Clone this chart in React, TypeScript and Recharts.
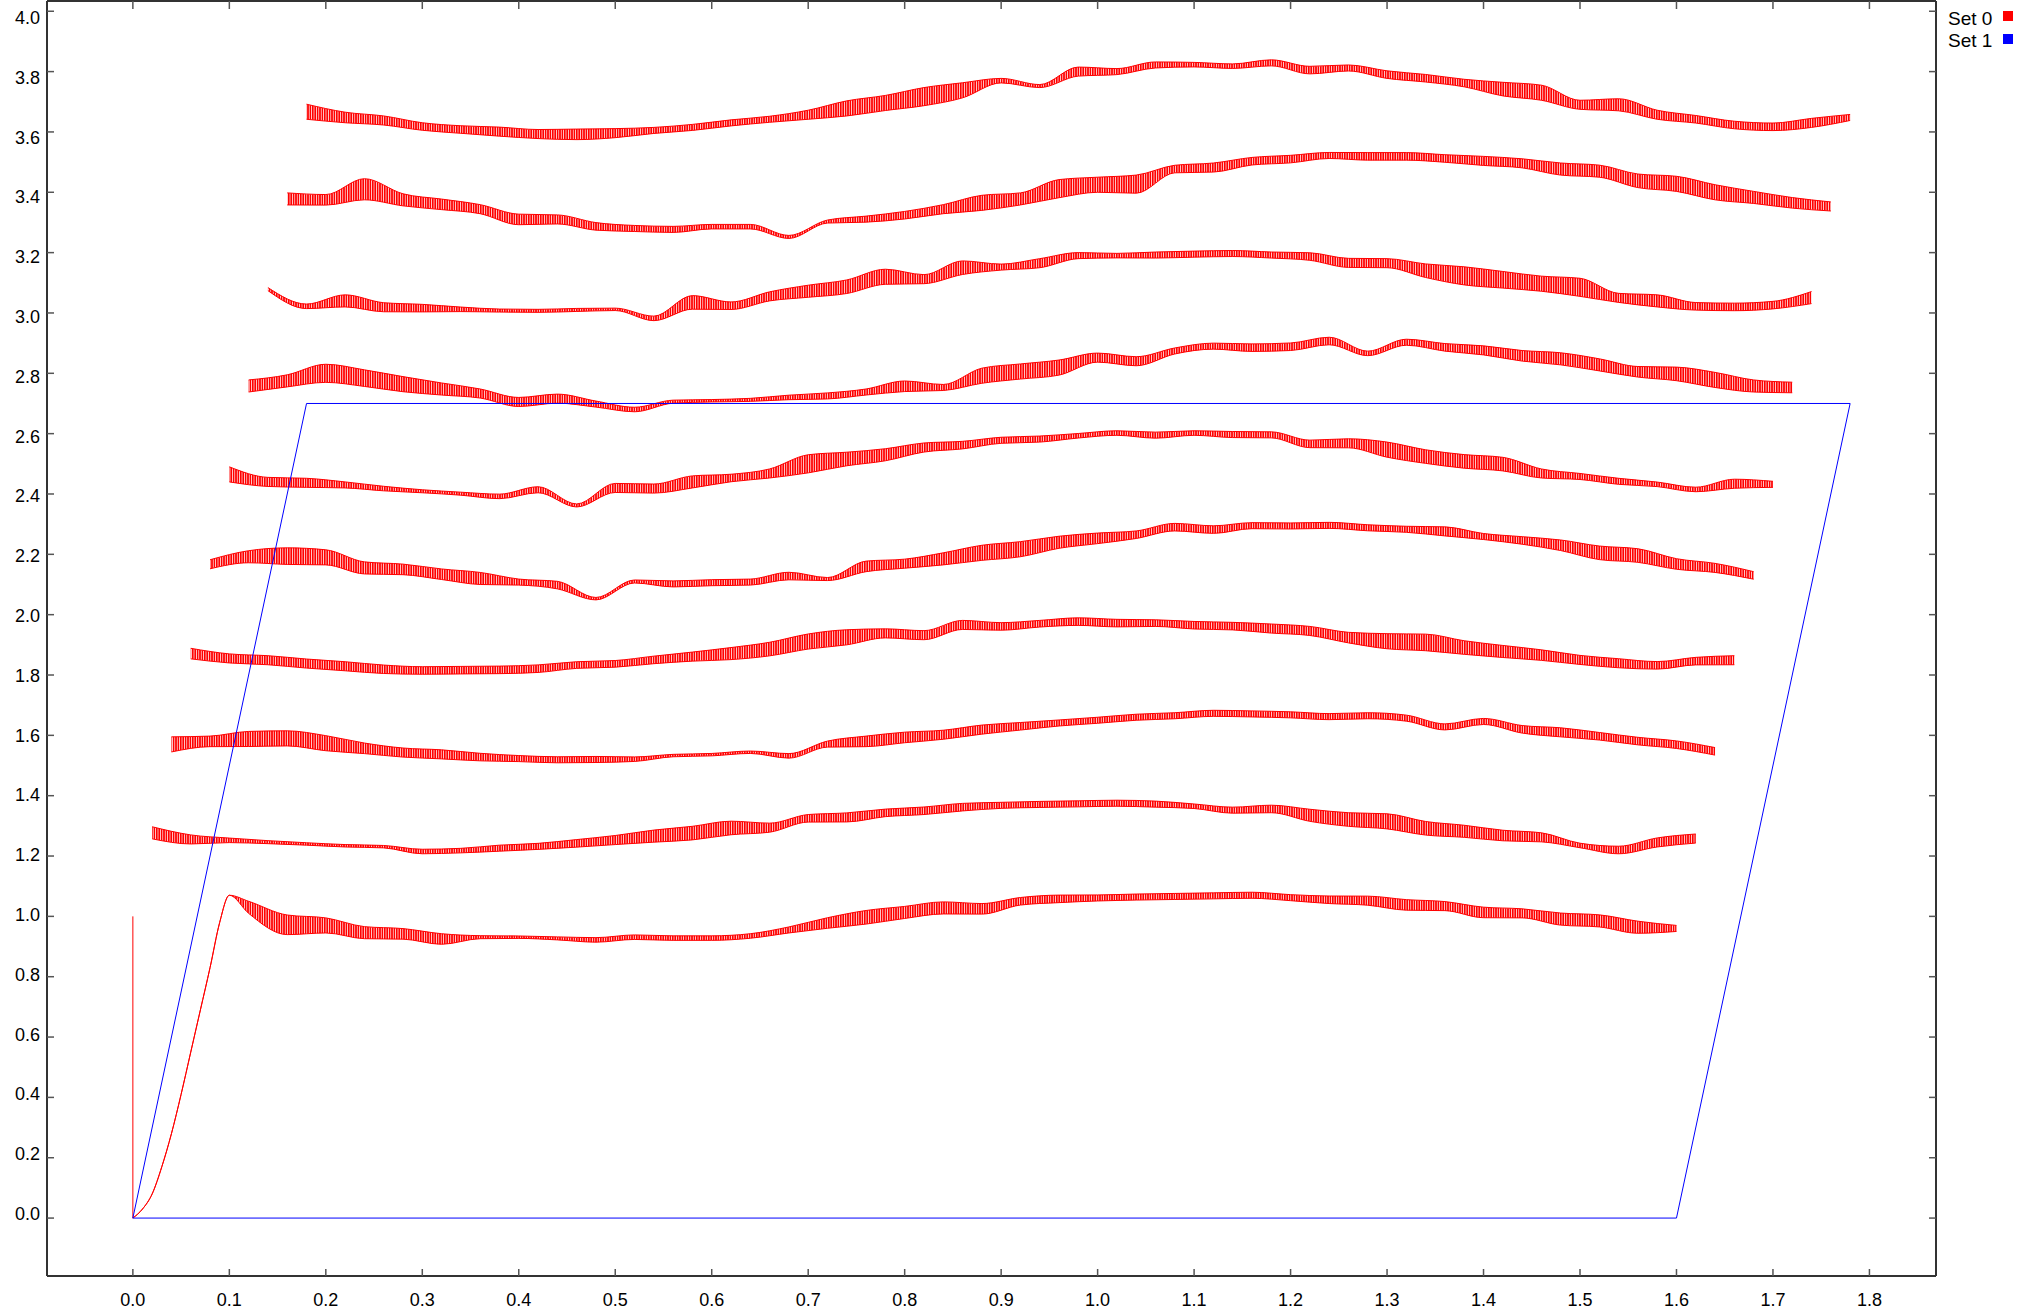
import React from 'react';
import { ComposedChart, Line, Area, XAxis, YAxis } from 'recharts';

// ---------- axis ticks ----------
const X_TICKS = [0, 0.1, 0.2, 0.3, 0.4, 0.5, 0.6, 0.7, 0.8, 0.9, 1.0, 1.1, 1.2, 1.3, 1.4, 1.5, 1.6, 1.7, 1.8];
const Y_TICKS = [0, 0.2, 0.4, 0.6, 0.8, 1.0, 1.2, 1.4, 1.6, 1.8, 2.0, 2.2, 2.4, 2.6, 2.8, 3.0, 3.2, 3.4, 3.6, 3.8, 4.0];
const X_DOMAIN = [-0.089, 1.869];
const Y_DOMAIN = [-0.192, 4.034];

// ---------- legend ----------
const LEGEND_NAMES = ['Set 0', 'Set 1'];
const LEGEND_COLORS = ['#ff0000', '#0000ff'];

// ---------- Set 1 (blue outline) ----------
const SET1_X = [0, 0.18, 1.78, 1.6, 0];
const SET1_Y = [0, 2.7, 2.7, 0, 0];

// ---------- Set 0 (red) ----------
const SPIKE_X = [0, 0];
const SPIKE_Y = [0, 1.0];

const RAMP_X = [0, 0.01, 0.02, 0.03, 0.04, 0.05, 0.06, 0.07, 0.08, 0.09, 0.1];
const RAMP_Y = [0, 0.03, 0.08, 0.17, 0.28, 0.41, 0.55, 0.69, 0.83, 0.98, 1.07];

// local abscissa of every trace (x = start + u)
const U = [0, 0.04, 0.08, 0.12, 0.16, 0.2, 0.24, 0.28, 0.32, 0.36, 0.4, 0.44, 0.48, 0.52, 0.56, 0.6, 0.64, 0.68, 0.72, 0.76, 0.8,
  0.84, 0.88, 0.92, 0.96, 1.0, 1.04, 1.08, 1.12, 1.16, 1.2, 1.24, 1.28, 1.32, 1.36, 1.4, 1.44, 1.48, 1.52, 1.56, 1.6];
const STARTS = [0, 0.02, 0.04, 0.06, 0.08, 0.1, 0.12, 0.14, 0.16, 0.18];

// trace 0 values from u = 0.12 on (after the ramp)
const T0_MID = [1.03, 0.972, 0.97, 0.946, 0.942, 0.925, 0.931, 0.931, 0.927, 0.922, 0.931, 0.928, 0.928, 0.935, 0.955, 0.978, 0.997, 1.013, 1.028, 1.025,
  1.05, 1.058, 1.061, 1.064, 1.066, 1.068, 1.07, 1.062, 1.055, 1.052, 1.038, 1.034, 1.013, 1.01, 0.991, 0.985, 0.964, 0.96];
const T0_AMP = [0.04, 0.065, 0.05, 0.04, 0.035, 0.035, 0.01, 0.008, 0.01, 0.015, 0.015, 0.015, 0.015, 0.015, 0.02, 0.035, 0.045, 0.04, 0.04, 0.035,
  0.025, 0.025, 0.02, 0.02, 0.02, 0.02, 0.02, 0.02, 0.025, 0.03, 0.035, 0.03, 0.035, 0.03, 0.04, 0.04, 0.04, 0.02];

const T1_MID = [1.277, 1.255, 1.252, 1.246, 1.24, 1.234, 1.231, 1.215, 1.218, 1.226, 1.232, 1.242, 1.253, 1.266, 1.276, 1.293, 1.294, 1.325, 1.328, 1.343, 1.35,
  1.362, 1.368, 1.371, 1.373, 1.375, 1.372, 1.365, 1.352, 1.356, 1.335, 1.321, 1.315, 1.292, 1.282, 1.268, 1.262, 1.235, 1.22, 1.245, 1.258];
const T1_AMP = [0.04, 0.03, 0.015, 0.01, 0.008, 0.008, 0.008, 0.015, 0.015, 0.02, 0.02, 0.025, 0.03, 0.04, 0.045, 0.045, 0.03, 0.025, 0.03, 0.025, 0.025,
  0.025, 0.02, 0.02, 0.02, 0.02, 0.02, 0.015, 0.02, 0.025, 0.04, 0.045, 0.05, 0.045, 0.04, 0.035, 0.03, 0.015, 0.025, 0.03, 0.03];

const T2_MID = [1.57, 1.58, 1.588, 1.59, 1.574, 1.557, 1.543, 1.537, 1.528, 1.523, 1.519, 1.52, 1.521, 1.533, 1.536, 1.544, 1.532, 1.571, 1.58, 1.593, 1.602,
  1.619, 1.63, 1.641, 1.65, 1.66, 1.665, 1.673, 1.671, 1.668, 1.662, 1.665, 1.657, 1.628, 1.646, 1.62, 1.61, 1.597, 1.581, 1.569, 1.547];
const T2_AMP = [0.05, 0.035, 0.05, 0.05, 0.05, 0.035, 0.03, 0.03, 0.025, 0.02, 0.02, 0.02, 0.015, 0.008, 0.008, 0.008, 0.015, 0.02, 0.035, 0.035, 0.03,
  0.03, 0.025, 0.02, 0.02, 0.02, 0.02, 0.02, 0.02, 0.02, 0.02, 0.02, 0.02, 0.02, 0.02, 0.025, 0.03, 0.025, 0.025, 0.025, 0.025];

const T3_MID = [1.871, 1.855, 1.849, 1.838, 1.829, 1.819, 1.815, 1.816, 1.817, 1.821, 1.833, 1.837, 1.85, 1.861, 1.871, 1.886, 1.911, 1.925, 1.938, 1.932, 1.966,
  1.961, 1.97, 1.977, 1.972, 1.972, 1.965, 1.962, 1.954, 1.946, 1.924, 1.912, 1.908, 1.891, 1.878, 1.866, 1.85, 1.839, 1.832, 1.846, 1.849];
const T3_AMP = [0.035, 0.03, 0.03, 0.03, 0.03, 0.028, 0.025, 0.025, 0.025, 0.025, 0.022, 0.022, 0.025, 0.03, 0.04, 0.045, 0.05, 0.05, 0.03, 0.03, 0.03,
  0.025, 0.022, 0.025, 0.025, 0.022, 0.025, 0.025, 0.03, 0.03, 0.035, 0.05, 0.055, 0.045, 0.04, 0.035, 0.03, 0.03, 0.025, 0.025, 0.03];

const T4_MID = [2.167, 2.192, 2.194, 2.19, 2.155, 2.15, 2.134, 2.12, 2.108, 2.098, 2.053, 2.11, 2.102, 2.106, 2.108, 2.128, 2.118, 2.16, 2.169, 2.185, 2.205,
  2.217, 2.24, 2.253, 2.265, 2.29, 2.282, 2.295, 2.294, 2.296, 2.288, 2.283, 2.276, 2.259, 2.246, 2.23, 2.205, 2.196, 2.168, 2.155, 2.13];
const T4_AMP = [0.03, 0.04, 0.055, 0.05, 0.04, 0.035, 0.035, 0.04, 0.02, 0.025, 0.008, 0.01, 0.02, 0.02, 0.02, 0.025, 0.01, 0.035, 0.03, 0.04, 0.05,
  0.05, 0.04, 0.035, 0.025, 0.025, 0.025, 0.02, 0.02, 0.02, 0.02, 0.02, 0.03, 0.02, 0.025, 0.035, 0.045, 0.045, 0.035, 0.03, 0.025];

const T5_MID = [2.465, 2.44, 2.437, 2.43, 2.418, 2.409, 2.401, 2.392, 2.414, 2.362, 2.42, 2.418, 2.44, 2.453, 2.468, 2.5, 2.516, 2.53, 2.554, 2.562, 2.578,
  2.582, 2.593, 2.602, 2.595, 2.602, 2.597, 2.596, 2.566, 2.568, 2.547, 2.524, 2.508, 2.499, 2.468, 2.458, 2.442, 2.432, 2.415, 2.434, 2.432];
const T5_AMP = [0.05, 0.03, 0.03, 0.02, 0.015, 0.01, 0.01, 0.015, 0.02, 0.01, 0.03, 0.03, 0.04, 0.025, 0.03, 0.06, 0.045, 0.04, 0.03, 0.025, 0.02,
  0.02, 0.015, 0.015, 0.02, 0.015, 0.02, 0.02, 0.025, 0.03, 0.05, 0.045, 0.045, 0.045, 0.03, 0.02, 0.02, 0.015, 0.015, 0.03, 0.02];

const T6_MID = [2.758, 2.775, 2.8, 2.784, 2.764, 2.748, 2.733, 2.705, 2.716, 2.698, 2.68, 2.706, 2.709, 2.712, 2.72, 2.725, 2.738, 2.757, 2.753, 2.792, 2.806,
  2.819, 2.852, 2.84, 2.874, 2.89, 2.885, 2.888, 2.907, 2.866, 2.903, 2.886, 2.876, 2.858, 2.848, 2.828, 2.805, 2.798, 2.778, 2.758, 2.753];
const T6_AMP = [0.04, 0.04, 0.06, 0.055, 0.05, 0.04, 0.03, 0.03, 0.03, 0.02, 0.015, 0.01, 0.008, 0.01, 0.015, 0.02, 0.02, 0.035, 0.02, 0.05, 0.05,
  0.05, 0.03, 0.03, 0.02, 0.02, 0.025, 0.025, 0.025, 0.015, 0.02, 0.025, 0.03, 0.035, 0.04, 0.04, 0.035, 0.045, 0.05, 0.04, 0.035];

const T7_MID = [3.079, 3.022, 3.04, 3.019, 3.016, 3.012, 3.008, 3.007, 3.01, 3.012, 2.982, 3.035, 3.024, 3.055, 3.072, 3.087, 3.12, 3.112, 3.15, 3.152, 3.165,
  3.19, 3.19, 3.192, 3.195, 3.197, 3.192, 3.187, 3.166, 3.165, 3.14, 3.123, 3.11, 3.097, 3.085, 3.05, 3.04, 3.022, 3.02, 3.026, 3.051];
const T7_AMP = [0.01, 0.015, 0.04, 0.03, 0.025, 0.015, 0.01, 0.01, 0.01, 0.008, 0.015, 0.045, 0.025, 0.03, 0.04, 0.045, 0.05, 0.03, 0.045, 0.02, 0.03,
  0.02, 0.015, 0.02, 0.02, 0.02, 0.02, 0.025, 0.03, 0.03, 0.045, 0.06, 0.055, 0.05, 0.06, 0.03, 0.04, 0.025, 0.025, 0.025, 0.04];

const T8_MID = [3.378, 3.375, 3.41, 3.375, 3.36, 3.344, 3.31, 3.31, 3.287, 3.28, 3.277, 3.286, 3.286, 3.252, 3.303, 3.311, 3.324, 3.344, 3.365, 3.378, 3.412,
  3.425, 3.427, 3.477, 3.482, 3.503, 3.51, 3.522, 3.519, 3.519, 3.512, 3.504, 3.496, 3.477, 3.47, 3.438, 3.428, 3.4, 3.383, 3.365, 3.353];
const T8_AMP = [0.04, 0.035, 0.07, 0.04, 0.035, 0.03, 0.035, 0.03, 0.025, 0.02, 0.02, 0.015, 0.015, 0.01, 0.01, 0.02, 0.025, 0.03, 0.05, 0.04, 0.06,
  0.05, 0.06, 0.025, 0.03, 0.025, 0.025, 0.02, 0.025, 0.025, 0.025, 0.03, 0.03, 0.04, 0.04, 0.045, 0.05, 0.05, 0.04, 0.035, 0.03];

const T9_MID = [3.667, 3.648, 3.638, 3.618, 3.608, 3.601, 3.593, 3.592, 3.596, 3.605, 3.615, 3.63, 3.642, 3.657, 3.678, 3.696, 3.717, 3.738, 3.77, 3.752, 3.8,
  3.8, 3.822, 3.823, 3.818, 3.829, 3.805, 3.812, 3.79, 3.778, 3.762, 3.742, 3.73, 3.69, 3.69, 3.657, 3.642, 3.623, 3.617, 3.63, 3.648];
const T9_AMP = [0.05, 0.035, 0.03, 0.025, 0.025, 0.03, 0.03, 0.035, 0.03, 0.02, 0.02, 0.02, 0.02, 0.03, 0.05, 0.05, 0.06, 0.05, 0.015, 0.01, 0.03,
  0.02, 0.02, 0.015, 0.015, 0.02, 0.025, 0.02, 0.025, 0.025, 0.025, 0.045, 0.05, 0.03, 0.04, 0.03, 0.025, 0.025, 0.025, 0.03, 0.02];

const MIDS = [T1_MID, T2_MID, T3_MID, T4_MID, T5_MID, T6_MID, T7_MID, T8_MID, T9_MID];
const AMPS = [T1_AMP, T2_AMP, T3_AMP, T4_AMP, T5_AMP, T6_AMP, T7_AMP, T8_AMP, T9_AMP];

type BandPoint = { x: number; r: [number, number] };

function buildBand(start: number, mid: number[], amp: number[], uOffset: number): BandPoint[] {
  return mid.map((m, i) => ({
    x: Math.round((start + U[i + uOffset]) * 1000) / 1000,
    r: [m - amp[i] / 2, m + amp[i] / 2],
  }));
}

const trace0: BandPoint[] = [
  ...RAMP_X.map((x, i) => ({ x, r: [RAMP_Y[i], RAMP_Y[i]] as [number, number] })),
  ...buildBand(STARTS[0], T0_MID, T0_AMP, 3),
];
const traces: BandPoint[][] = [trace0, ...MIDS.map((m, k) => buildBand(STARTS[k + 1], m, AMPS[k], 0))];

const set1Data = SET1_X.map((x, i) => ({ x, y: SET1_Y[i] }));
const spikeData = SPIKE_X.map((x, i) => ({ x, y: SPIKE_Y[i] }));

const FONT = '"Liberation Sans", Arial, Helvetica, sans-serif';
const AXIS_COLOR = '#333333';
const TICK_COLOR = '#555555';
const TICK_FONT = 18;

const fmt = (v: any) => Number(v).toFixed(1);

const BottomTick = (p: any) => (
  <g>
    <line x1={p.x} x2={p.x} y1={p.y} y2={p.y - 7} stroke={TICK_COLOR} strokeWidth={1.5} />
    <text x={p.x} y={p.y + 29.5} textAnchor="middle" fontSize={TICK_FONT} fontFamily={FONT} fill="#000">
      {fmt(p.payload.value)}
    </text>
  </g>
);
const TopTick = (p: any) => (
  <line x1={p.x} x2={p.x} y1={p.y} y2={p.y + 8} stroke={TICK_COLOR} strokeWidth={1.5} />
);
// the labels of the reference sit on a slightly tighter spacing than the ticks
const LeftTick = (p: any) => {
  const v = Number(p.payload.value);
  const shift = -4.4 + 2.7 * v;
  return (
    <g>
      <line x1={p.x} x2={p.x + 7} y1={p.y} y2={p.y} stroke={TICK_COLOR} strokeWidth={1.5} />
      <text x={p.x - 7} y={p.y + shift + 6.3} textAnchor="end" fontSize={TICK_FONT} fontFamily={FONT} fill="#000">
        {fmt(v)}
      </text>
    </g>
  );
};
const RightTick = (p: any) => (
  <line x1={p.x} x2={p.x - 7} y1={p.y} y2={p.y} stroke={TICK_COLOR} strokeWidth={1.5} />
);

export default function App() {
  return (
    <div style={{ position: 'absolute', left: 0, top: 0, width: 2034, height: 1311, background: '#fff' }}>
      <svg width={0} height={0} style={{ position: 'absolute' }}>
        <defs>
          <pattern id="zigRed" patternUnits="userSpaceOnUse" width={2.4} height={8}>
            <rect x={0} y={0} width={1.7} height={8} fill="#ff0000" />
          </pattern>
        </defs>
      </svg>
      <ComposedChart width={2034} height={1311} margin={{ top: 0, right: 0, bottom: 0, left: 0 }}>
        <XAxis
          dataKey="x"
          type="number"
          domain={X_DOMAIN}
          allowDataOverflow
          ticks={X_TICKS}
          interval={0}
          height={35}
          tickSize={0}
          tickMargin={0}
          tickLine={false}
          axisLine={{ stroke: AXIS_COLOR, strokeWidth: 2 }}
          tick={BottomTick}
        />
        <XAxis
          xAxisId="top"
          orientation="top"
          dataKey="x"
          type="number"
          domain={X_DOMAIN}
          allowDataOverflow
          ticks={X_TICKS}
          interval={0}
          height={1}
          tickSize={0}
          tickMargin={0}
          tickLine={false}
          axisLine={{ stroke: AXIS_COLOR, strokeWidth: 2 }}
          tick={TopTick}
        />
        <YAxis
          type="number"
          domain={Y_DOMAIN}
          allowDataOverflow
          ticks={Y_TICKS}
          interval={0}
          width={47}
          tickSize={0}
          tickMargin={0}
          tickLine={false}
          axisLine={{ stroke: AXIS_COLOR, strokeWidth: 2 }}
          tick={LeftTick}
        />
        <YAxis
          yAxisId="right"
          orientation="right"
          type="number"
          domain={Y_DOMAIN}
          allowDataOverflow
          ticks={Y_TICKS}
          interval={0}
          width={98}
          tickSize={0}
          tickMargin={0}
          tickLine={false}
          axisLine={{ stroke: AXIS_COLOR, strokeWidth: 2 }}
          tick={RightTick}
        />
        <Line
          data={spikeData}
          dataKey="y"
          type="linear"
          stroke="#ff0000"
          strokeWidth={1}
          dot={false}
          activeDot={false}
          isAnimationActive={false}
          legendType="none"
        />
        {traces.map((d, k) => (
          <Area
            key={'t' + k}
            data={d}
            dataKey="r"
            type="monotone"
            stroke="#ff0000"
            strokeWidth={1}
            fill="url(#zigRed)"
            fillOpacity={1}
            dot={false}
            activeDot={false}
            isAnimationActive={false}
            legendType="none"
          />
        ))}
        <Line
          data={set1Data}
          dataKey="y"
          type="linear"
          stroke="#0000ff"
          strokeWidth={1}
          dot={false}
          activeDot={false}
          isAnimationActive={false}
          legendType="none"
        />
        <Line
          data={set1Data}
          xAxisId="top"
          yAxisId="right"
          dataKey="y"
          stroke="none"
          dot={false}
          activeDot={false}
          isAnimationActive={false}
          legendType="none"
        />
      </ComposedChart>
      {LEGEND_NAMES.map((name, i) => (
        <React.Fragment key={name}>
          <div
            style={{
              position: 'absolute',
              left: 1948,
              top: 8.5 + i * 22.7,
              fontFamily: FONT,
              fontSize: 19,
              lineHeight: '20px',
              color: '#000',
              whiteSpace: 'nowrap',
            }}
          >
            {name}
          </div>
          <div
            style={{
              position: 'absolute',
              left: 2003,
              top: 11 + i * 22.7,
              width: 10,
              height: 10,
              background: LEGEND_COLORS[i],
            }}
          />
        </React.Fragment>
      ))}
    </div>
  );
}
